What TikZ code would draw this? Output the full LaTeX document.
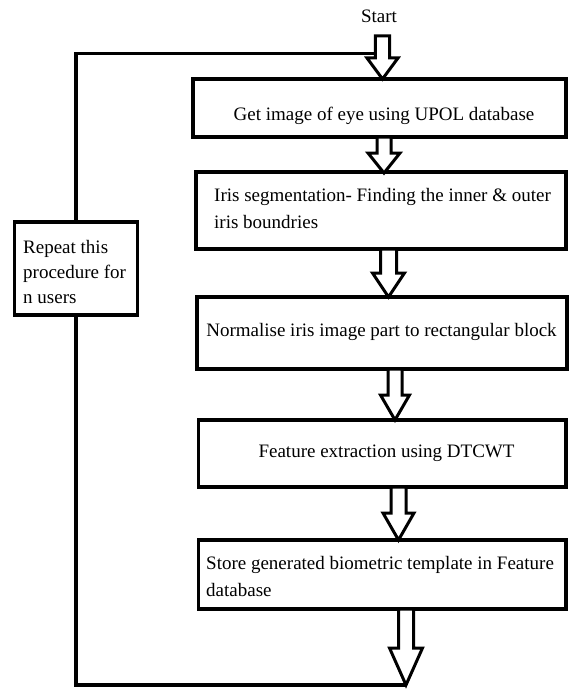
\documentclass[tikz,border=0pt]{standalone}
\usepackage{fontspec}
\setmainfont{Liberation Serif}
\usetikzlibrary{calc}
\newcommand\blkarrow[6]{% cx, shaft half, head half, ytop, yhead, ytip
  \draw[arrowline] (#1-#2,#4) -- (#1-#2,#5) -- (#1-#3,#5) -- (#1,#6) -- (#1+#3,#5) -- (#1+#2,#5) -- (#1+#2,#4) -- cycle;}
\tikzset{
  txt/.style={inner sep=0pt, font=\fontsize{19}{27}\selectfont},
  box/.style={draw=black, line width=3.3pt, fill=white, inner sep=0pt},
  arrowline/.style={draw=black, fill=white, line width=3pt, line join=miter},
  loopline/.style={draw=black, line width=3.3pt}
}
\begin{document}
\begin{tikzpicture}[x=1pt,y=-1pt]
\useasboundingbox (0,0) rectangle (569,690);
% loop connector
\node[box, minimum width=123pt, minimum height=93pt] (lb) at (76,268.5) {};
\coordinate (looptip) at (406,685);
\coordinate (loopend) at (375,53.5);
\draw[loopline] (looptip) -| (lb.south);
\draw[loopline] (lb.north) |- (loopend);
\node[txt, anchor=west, align=left, font=\fontsize{19}{25}\selectfont] (lt) at (23,272) {Repeat this\\procedure for\\n users};
% boxes
\node[box, minimum width=373pt, minimum height=58pt] (b1) at (379.5,108) {};
\node[box, minimum width=370pt, minimum height=77pt] (b2) at (381,210.5) {};
\node[box, minimum width=370pt, minimum height=72pt] (b3) at (382,333) {};
\node[box, minimum width=367.5pt, minimum height=67pt] (b4) at (382.25,453.5) {};
\node[box, minimum width=367.5pt, minimum height=69pt] (b5) at (382.25,574.5) {};
% texts
\node[txt] (start) at (379,16) {Start};
\node[txt] (t1) at (384,116) {Get image of eye using UPOL database};
\node[txt, anchor=west, align=left] (t2) at (214,208.5) {Iris segmentation- Finding the inner \& outer\\iris boundries};
\node[txt] (t3) at (381.5,332) {Normalise iris image part to rectangular block};
\node[txt] (t4) at (386.5,453) {Feature extraction using DTCWT};
\node[txt, anchor=west, align=left] (t5) at (206,576.5) {Store generated biometric template in Feature\\database};
% block arrows
\blkarrow{382.5}{7.2}{15.5}{36}{58}{79}
\blkarrow{384}{7}{16}{137}{153}{173}
\blkarrow{388.5}{8}{16}{249}{273}{297}
\blkarrow{395}{7}{14.5}{369}{395}{420}
\blkarrow{398.5}{7.5}{15.5}{487}{513}{540}
\blkarrow{406}{7.5}{16.5}{609}{648}{685}
\end{tikzpicture}
\end{document}
